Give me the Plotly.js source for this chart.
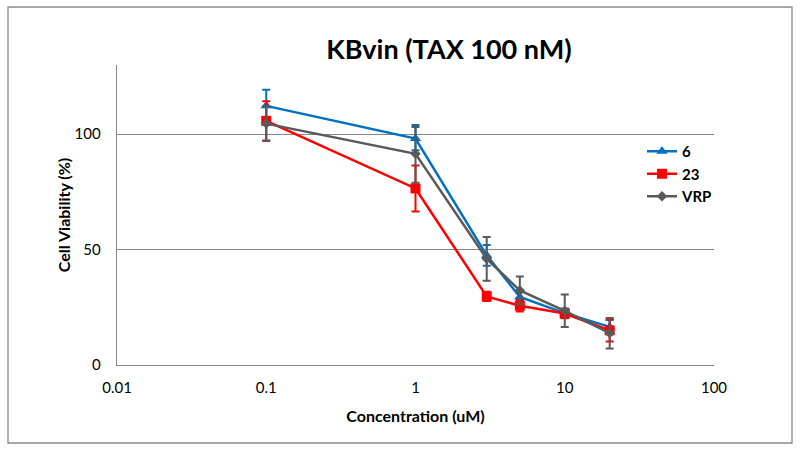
<!DOCTYPE html>
<html>
<head>
<meta charset="utf-8">
<script src="https://cdn.plot.ly/plotly-3.0.1.min.js"></script>
<style>html,body{margin:0;padding:0;background:#fff;}#chart{width:800px;height:453px;}</style>
</head>
<body>
<div id="chart"></div>
<script>
const concentrations = [0.1, 1, 3, 5, 10, 20];
const seriesNames = ["6", "23", "VRP"];
const viability6 = [112.3, 98.1, 47.5, 29.5, 22.5, 16.5];
const error6 = [7, 5, 4.5, 2, 2, 3];
const viability23 = [105.8, 76.5, 29.7, 25.7, 22.3, 15];
const error23 = [8.5, 10, 2, 2.5, 2, 4.8];
const viabilityVRP = [104.6, 91.5, 46, 32.3, 23.5, 13.8];
const errorVRP = [7.5, 12.5, 9.5, 6, 7, 6.6];
const xTickVals = [0.01, 0.1, 1, 10, 100];
const xTickText = ["0.01", "0.1", "1", "10", "100"];
const yTickVals = [0, 50, 100];
const yTickText = ["0", "50", "100"];

const FONT = "Lato, 'Open Sans', sans-serif";
const W = 800, H = 453;
const M = {l: 117, r: 86, t: 65, b: 88};
const pw = W - M.l - M.r, ph = H - M.t - M.b;
function px2x(p) { return (p - M.l) / pw; }
function px2y(p) { return (H - M.b - p) / ph; }

function mk(name, y, err, color, symbol, size) {
  return {
    x: concentrations, y: y, name: "<b>" + name + "</b>", type: "scatter", mode: "lines+markers",
    line: {color: color, width: 2.5},
    marker: {color: color, symbol: symbol, size: size},
    error_y: {type: "data", array: err, visible: true, color: color, thickness: 2, width: 4}
  };
}

const data = [
  mk(seriesNames[0], viability6, error6, "#0070C0", "triangle-up", 10),
  mk(seriesNames[1], viability23, error23, "#FF0000", "square", 10),
  mk(seriesNames[2], viabilityVRP, errorVRP, "#595959", "diamond", 8)
];

const layout = {
  width: W, height: H,
  margin: M,
  paper_bgcolor: "#fff", plot_bgcolor: "#fff",
  font: {family: FONT, color: "#000"},
  title: {text: "<b>KBvin (TAX 100 nM)</b>", font: {size: 27, family: FONT, color: "#000", weight: 900},
          x: 449 / W, xanchor: "center", y: 1 - 50 / H, yanchor: "middle"},
  xaxis: {
    type: "log", range: [-2, 2],
    tickvals: xTickVals, ticktext: xTickText,
    showgrid: false, zeroline: false,
    showline: true, linecolor: "#878787", linewidth: 1.3,
    ticks: "", tickfont: {size: 15, family: FONT, color: "#000"},
    ticklabelstandoff: 9,
    title: {text: "<b>Concentration (uM)</b>", font: {size: 16, family: FONT, color: "#000"}, standoff: 15}
  },
  yaxis: {
    range: [0, 130],
    tickvals: yTickVals, ticktext: yTickText,
    showgrid: true, gridcolor: "#878787", gridwidth: 1.3,
    zeroline: false,
    showline: true, linecolor: "#878787", linewidth: 1.3,
    ticks: "", tickfont: {size: 15, family: FONT, color: "#000"},
    ticklabelstandoff: 12,
    title: {text: "<b>Cell Viability (%)</b>", font: {size: 16, family: FONT, color: "#000"}, standoff: 0}
  },
  legend: {
    x: px2x(642), y: px2y(135), xanchor: "left", yanchor: "top",
    font: {size: 15, family: FONT, color: "#000"},
    bgcolor: "rgba(0,0,0,0)", tracegroupgap: 0, itemwidth: 30
  },
  showlegend: true,
  shapes: [{
    type: "rect", xref: "paper", yref: "paper",
    x0: px2x(8), x1: px2x(792), y0: px2y(443), y1: px2y(7),
    line: {color: "#8c8c8c", width: 1.3}, fillcolor: "rgba(0,0,0,0)", layer: "below"
  }]
};

Plotly.newPlot("chart", data, layout, {displayModeBar: false, staticPlot: true});
</script>
</body>
</html>
